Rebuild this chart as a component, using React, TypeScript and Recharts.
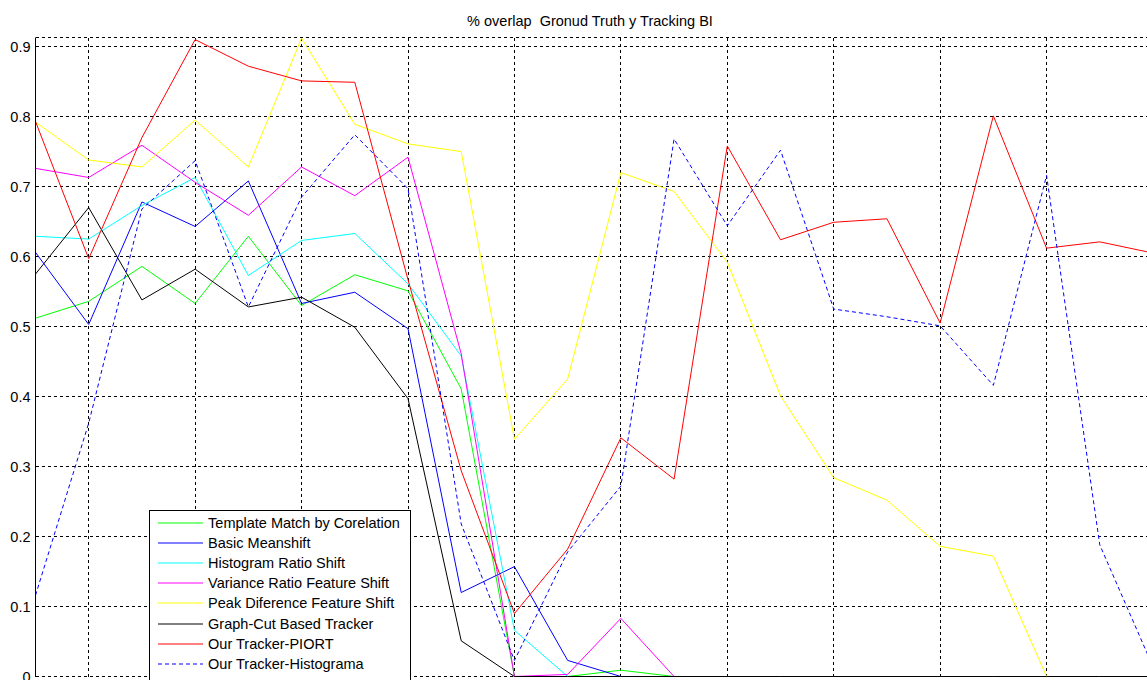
import React from 'react';
import { LineChart, Line, XAxis, YAxis, CartesianGrid, Legend } from 'recharts';

const frames = [1, 2, 3, 4, 5, 6, 7, 8, 9, 10, 11, 12, 13, 14, 15, 16, 17, 18, 19, 20, 21, 22];
const xTicks = [2, 4, 6, 8, 10, 12, 14, 16, 18, 20, 22];
const yTicks = [0, 0.1, 0.2, 0.3, 0.4, 0.5, 0.6, 0.7, 0.8, 0.9];

const templateMatch = [0.512, 0.536, 0.586, 0.533, 0.629, 0.530, 0.574, 0.551, 0.411, 0, 0, 0.009, 0, 0, 0, 0, 0, 0, 0, 0, 0, 0];
const basicMeanshift = [0.606, 0.503, 0.678, 0.643, 0.708, 0.533, 0.549, 0.497, 0.120, 0.157, 0.023, 0, 0, 0, 0, 0, 0, 0, 0, 0, 0, 0];
const histRatioShift = [0.629, 0.625, 0.673, 0.713, 0.573, 0.623, 0.633, 0.561, 0.458, 0.066, 0, 0, 0, 0, 0, 0, 0, 0, 0, 0, 0, 0];
const varianceRatio = [0.726, 0.713, 0.759, 0.706, 0.659, 0.728, 0.687, 0.742, 0.461, 0, 0.003, 0.083, 0, 0, 0, 0, 0, 0, 0, 0, 0, 0];
const peakDiference = [0.792, 0.738, 0.728, 0.795, 0.728, 0.912, 0.789, 0.761, 0.750, 0.339, 0.425, 0.720, 0.693, 0.592, 0.401, 0.284, 0.252, 0.186, 0.172, 0, 0, 0];
const graphCut = [0.575, 0.670, 0.538, 0.582, 0.528, 0.542, 0.499, 0.397, 0.051, 0, 0, 0, 0, 0, 0, 0, 0, 0, 0, 0, 0, 0];
const piort = [0.793, 0.597, 0.770, 0.910, 0.872, 0.851, 0.849, 0.567, 0.294, 0.090, 0.182, 0.341, 0.282, 0.758, 0.624, 0.649, 0.654, 0.505, 0.801, 0.612, 0.621, 0.605];
const histograma = [0.116, 0.362, 0.668, 0.737, 0.528, 0.685, 0.774, 0.697, 0.218, 0.023, 0.178, 0.272, 0.768, 0.644, 0.752, 0.525, 0.514, 0.501, 0.416, 0.716, 0.188, 0.014];

const seriesNames = [
  'Template Match by Corelation',
  'Basic Meanshift',
  'Histogram Ratio Shift',
  'Variance Ratio Feature Shift',
  'Peak Diference Feature Shift',
  'Graph-Cut Based Tracker',
  'Our Tracker-PIORT',
  'Our Tracker-Histograma',
];
const seriesValues = [templateMatch, basicMeanshift, histRatioShift, varianceRatio, peakDiference, graphCut, piort, histograma];
const seriesColors = ['#00ff00', '#0000ff', '#00ffff', '#ff00ff', '#ffff00', '#000000', '#ff0000', '#0000ff'];
const seriesDash = [undefined, undefined, undefined, undefined, undefined, undefined, undefined, '4 3'];

const data = frames.map((f, i) => {
  const row: Record<string, number> = { frame: f };
  seriesValues.forEach((vals, k) => {
    row['s' + k] = vals[i];
  });
  return row;
});

const FONT = '"Liberation Sans", Arial, Helvetica, sans-serif';
const Y_MAX = 0.913;

const NoTick = () => null;

const LegendBox = () => (
  <div
    style={{
      border: '1px solid #000',
      background: '#fff',
      width: 262,
      height: 180,
      boxSizing: 'border-box',
      paddingTop: 1.6,
      fontFamily: FONT,
      fontSize: 14.5,
      color: '#000',
    }}
  >
    {seriesNames.map((name, k) => (
      <div key={name} style={{ display: 'flex', alignItems: 'center', height: 20.2, whiteSpace: 'nowrap' }}>
        <svg width={45} height={4} style={{ marginLeft: 7.7, marginRight: 5.4, display: 'block' }}>
          <line x1={0} y1={2} x2={45} y2={2} stroke={seriesColors[k]} strokeWidth={1} strokeDasharray={seriesDash[k]} />
        </svg>
        <span>{name}</span>
      </div>
    ))}
  </div>
);

export default function App() {
  return (
    <div
      style={{
        position: 'absolute',
        left: 0,
        top: 0,
        width: 1147,
        height: 680,
        overflow: 'hidden',
        background: '#fff',
      }}
    >
      <div
        style={{
          position: 'absolute',
          left: 0,
          top: 13.3,
          width: 1180,
          textAlign: 'center',
          fontFamily: FONT,
          fontSize: 14.5,
          color: '#000',
          whiteSpace: 'pre',
          zIndex: 2,
        }}
      >
        {'% overlap  Gronud Truth y Tracking BI'}
      </div>
      <LineChart width={1154} height={680} data={data} margin={{ top: 37.5, right: 1, bottom: 3.5, left: 0 }}>
        <CartesianGrid stroke="#000" strokeDasharray="3 3" strokeWidth={1} shapeRendering="crispEdges" />
        <XAxis
          dataKey="frame"
          type="number"
          domain={[1, 22]}
          ticks={xTicks}
          interval={0}
          tick={NoTick}
          tickSize={5}
          mirror
          height={0}
          axisLine={{ stroke: '#000' }}
          tickLine={{ stroke: '#000' }}
        />
        <XAxis
          xAxisId="top"
          orientation="top"
          dataKey="frame"
          type="number"
          domain={[1, 22]}
          ticks={xTicks}
          interval={0}
          tick={NoTick}
          tickSize={5}
          mirror
          height={0}
          axisLine={{ stroke: '#000' }}
          tickLine={{ stroke: '#000' }}
        />
        <YAxis
          type="number"
          domain={[0, Y_MAX]}
          ticks={yTicks}
          interval={0}
          width={35.5}
          tickLine={false}
          tickSize={3}
          tickMargin={2}
          axisLine={{ stroke: '#000' }}
          tick={{ fill: '#000', fontSize: 14.5, fontFamily: FONT }}
        />
        <YAxis
          yAxisId="leftTicks"
          type="number"
          domain={[0, Y_MAX]}
          ticks={yTicks}
          interval={0}
          width={0}
          mirror
          tick={NoTick}
          tickSize={5}
          axisLine={false}
          tickLine={{ stroke: '#000' }}
        />
        <Legend
          layout="vertical"
          align="center"
          verticalAlign="middle"
          width={262}
          height={180}
          wrapperStyle={{ left: 149, top: 510, width: 262, height: 180 }}
          content={() => <LegendBox />}
        />
        {seriesNames.map((name, k) => (
          <Line
            key={name}
            name={name}
            dataKey={'s' + k}
            type="linear"
            stroke={seriesColors[k]}
            strokeWidth={1}
            strokeDasharray={seriesDash[k]}
            dot={false}
            activeDot={false}
            isAnimationActive={false}
          />
        ))}
      </LineChart>
    </div>
  );
}
